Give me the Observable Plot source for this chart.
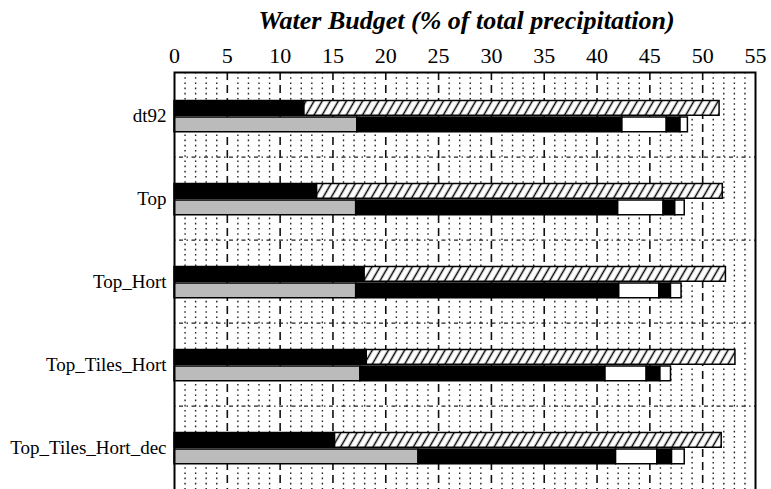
<!DOCTYPE html>
<html>
<head>
<meta charset="utf-8">
<script src="https://cdn.jsdelivr.net/npm/d3@7"></script>
<script src="https://cdn.jsdelivr.net/npm/@observablehq/plot@0.6"></script>
<style>
  html, body { margin: 0; padding: 0; background: #fff; overflow: hidden; width: 771px; height: 489px; }
  #title {
    box-sizing: border-box; width: 771px; height: 36px;
    padding: 6px 12px 0 174px; line-height: 26px; text-align: center;
    font: italic bold 26px "Liberation Serif", "Times New Roman", serif; color: #000;
  }
  #chart svg { display: block; }
</style>
</head>
<body>
<div id="title">Water Budget (% of total precipitation)</div>
<div id="chart"></div>
<script>
// Model runs, top to bottom
const runs = ["dt92", "Top", "Top_Hort", "Top_Tiles_Hort", "Top_Tiles_Hort_dec"];

// Upper bar of each run: solid part, then hatched part (cumulative ends, % of precipitation)
const upperSolidEnd = [12.3, 13.5, 18.0, 18.2, 15.2];
const upperHatchEnd = [51.6, 51.9, 52.2, 53.1, 51.8];

// Lower bar of each run: grey, black, white, black, white (cumulative ends)
const lowerGreyEnd   = [17.3, 17.2, 17.2, 17.6, 23.1];
const lowerBlackEnd  = [42.4, 42.0, 42.1, 40.8, 41.8];
const lowerWhiteEnd  = [46.6, 46.3, 45.9, 44.7, 45.7];
const lowerBlack2End = [47.9, 47.4, 47.0, 46.0, 47.1];
const lowerWhite2End = [48.6, 48.3, 48.0, 47.0, 48.3];

// Axis ticks
const majorTicks = d3.range(0, 56, 5);
const minorTicks = d3.range(1, 55).filter(d => d % 5 !== 0);

// Segment rows for a rectX: from previous cumulative end to this one
const segments = (from, to) => runs.map((run, i) => ({run, x1: from ? from[i] : 0, x2: to[i]}));

const marginTop = 36;
const bandH = 83.75;

// Diagonal hatch fill used by the upper bars
const hatchDefs = () => {
  const defs = d3.create("svg:defs");
  const p = defs.append("pattern")
    .attr("id", "hatch")
    .attr("patternUnits", "userSpaceOnUse")
    .attr("width", 7).attr("height", 7)
    .attr("patternTransform", "rotate(30)");
  p.append("rect").attr("width", 7).attr("height", 7).attr("fill", "#fff");
  p.append("line").attr("x1", 3.5).attr("x2", 3.5).attr("y1", 0).attr("y2", 7)
    .attr("stroke", "#000").attr("stroke-width", 1.5);
  return defs.node();
};

const upper = {y: "run", x1: "x1", x2: "x2", insetTop: 26.5, insetBottom: 41.75, stroke: "#000", strokeWidth: 1.5};
const lower = {y: "run", x1: "x1", x2: "x2", insetTop: 43, insetBottom: 25.25, stroke: "#000", strokeWidth: 1.5};

const chart = Plot.plot({
  width: 771,
  height: marginTop + bandH * runs.length,
  marginTop,
  marginLeft: 174,
  marginRight: 16,
  marginBottom: 0,
  style: {fontFamily: '"Liberation Serif", "Times New Roman", serif', background: "#fff", color: "#000"},
  x: {domain: [0, 55], axis: null},
  y: {domain: runs, padding: 0, axis: null},
  marks: [
    hatchDefs,
    Plot.ruleX(minorTicks, {stroke: "#222", strokeWidth: 1.4, strokeDasharray: "1.6,3.6"}),
    Plot.ruleX(majorTicks.slice(1, -1), {stroke: "#111", strokeWidth: 1.6, strokeDasharray: "8,5"}),
    Plot.ruleY(runs.slice(1), {dy: -bandH / 2, stroke: "#222", strokeWidth: 1.4, strokeDasharray: "1.5,3.5,4,3.5"}),
    Plot.rectX(segments(null, upperSolidEnd), {...upper, fill: "#000"}),
    Plot.rectX(segments(upperSolidEnd, upperHatchEnd), {...upper, fill: "url(#hatch)"}),
    Plot.rectX(segments(null, lowerGreyEnd), {...lower, fill: "#bbbbbb"}),
    Plot.rectX(segments(lowerGreyEnd, lowerBlackEnd), {...lower, fill: "#000"}),
    Plot.rectX(segments(lowerBlackEnd, lowerWhiteEnd), {...lower, fill: "#fff"}),
    Plot.rectX(segments(lowerWhiteEnd, lowerBlack2End), {...lower, fill: "#000"}),
    Plot.rectX(segments(lowerBlack2End, lowerWhite2End), {...lower, fill: "#fff"}),
    Plot.axisX({anchor: "top", ticks: majorTicks, tickSize: 0, tickPadding: 10, fontSize: 22, tickFormat: d => d, label: null}),
    Plot.axisY({anchor: "left", tickSize: 0, tickPadding: 8, fontSize: 19, label: null}),
    Plot.frame({stroke: "#000", strokeWidth: 2})
  ]
});

document.getElementById("chart").append(chart);
</script>
</body>
</html>
